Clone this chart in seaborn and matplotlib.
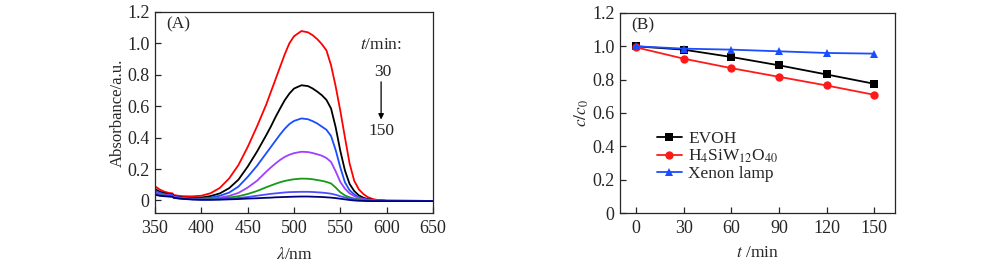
import numpy as np
import pandas as pd
import matplotlib
matplotlib.use("Agg")
import matplotlib.pyplot as plt
from matplotlib.ticker import FuncFormatter, MultipleLocator
import seaborn as sns

# ---------------- data ----------------
wavelength = [350, 355, 360, 365, 369, 370, 375, 380, 390, 400, 410, 420, 430, 440, 450,
              460, 470, 475, 480, 485, 490, 495, 500, 508, 515, 520, 525, 530, 535, 540,
              545, 550, 555, 560, 565, 570, 575, 580, 585, 590, 600, 650]

abs_red = [.090, .070, .056, .048, .045, .035, .030, .027, .026, .030, .046, .080, .140, .225, .340,
           .470, .610, .690, .770, .850, .930, 1.000, 1.045, 1.078, 1.070, 1.052, 1.027, .995, .955, .860,
           .725, .570, .400, .235, .125, .070, .040, .020, .009, .003, -.002, -.003]
abs_black = [.072, .056, .046, .040, .038, .028, .022, .018, .015, .018, .028, .045, .078, .132, .215,
             .310, .415, .470, .530, .585, .638, .680, .712, .733, .728, .713, .693, .670, .640, .585,
             .465, .315, .190, .105, .060, .032, .017, .008, .004, .001, -.002, -.003]
abs_blue = [.062, .049, .040, .036, .034, .025, .020, .016, .012, .012, .018, .030, .050, .088, .150,
            .220, .300, .340, .380, .420, .456, .486, .506, .522, .517, .505, .490, .470, .450, .410,
            .320, .210, .115, .065, .038, .020, .010, .005, .002, .000, -.002, -.003]
abs_purple = [.052, .042, .035, .032, .030, .022, .018, .014, .010, .009, .012, .018, .029, .048, .082,
              .125, .183, .210, .235, .258, .277, .291, .301, .310, .308, .302, .294, .285, .270, .245,
              .185, .118, .075, .045, .028, .015, .008, .004, .002, .000, -.002, -.003]
abs_green = [.046, .037, .031, .027, .025, .018, .014, .011, .008, .007, .009, .013, .019, .027, .041,
             .060, .084, .095, .106, .116, .124, .130, .135, .139, .138, .135, .130, .125, .118, .108,
             .082, .052, .032, .020, .012, .007, .004, .002, .001, .000, -.002, -.003]
abs_violet = [.040, .033, .029, .027, .026, .019, .015, .012, .008, .006, .006, .008, .011, .016, .022,
              .030, .038, .042, .045, .048, .051, .053, .054, .055, .055, .054, .052, .050, .047, .043,
              .036, .027, .019, .012, .007, .004, .002, .000, -.001, -.002, -.003, -.003]
abs_navy = [.036, .030, .027, .025, .024, .017, .013, .010, .006, .004, .004, .005, .007, .009, .012,
            .014, .017, .018, .020, .021, .022, .023, .024, .025, .025, .024, .023, .022, .020, .018,
            .015, .011, .007, .003, .000, -.002, -.003, -.004, -.004, -.004, -.004, -.004]

spectra_names = ["s1", "s2", "s3", "s4", "s5", "s6", "s7"]
spectra_values = [abs_red, abs_black, abs_blue, abs_purple, abs_green, abs_violet, abs_navy]
spectra_colors = ["#ff0000", "#000000", "#1a4dff", "#a040ff", "#169a16", "#4d4dff", "#00007a"]

time_min = [0, 30, 60, 90, 120, 150]
series_names = ["EVOH", r"H$_4$SiW$_{12}$O$_{40}$", "Xenon lamp"]
cc0_evoh = [1.0, 0.980, 0.936, 0.886, 0.831, 0.775]
cc0_hsiw = [0.994, 0.926, 0.869, 0.817, 0.765, 0.709]
cc0_xenon = [1.0, 0.986, 0.980, 0.970, 0.960, 0.956]
series_colors = ["#000000", "#ff1a1a", "#1a4dff"]
series_markers = ["s", "o", "^"]

# ---------------- style ----------------
sns.set_theme(style="ticks")
plt.rcParams["font.family"] = ["Liberation Serif", "DejaVu Serif"]
plt.rcParams["mathtext.fontset"] = "stix"
plt.rcParams["font.size"] = 12.5
plt.rcParams["axes.linewidth"] = 0.9
plt.rcParams["xtick.direction"] = "in"
plt.rcParams["ytick.direction"] = "in"
plt.rcParams["xtick.major.size"] = 4
plt.rcParams["ytick.major.size"] = 4
plt.rcParams["xtick.major.width"] = 0.9
plt.rcParams["ytick.major.width"] = 0.9
plt.rcParams["xtick.major.pad"] = 5
plt.rcParams["ytick.major.pad"] = 4

TICK_FS = 13
LABEL_FS = 12
TEXT_FS = 12.5

fig = plt.figure(figsize=(10, 2.7), dpi=100)
axA = fig.add_axes([0.155, 0.211, 0.278, 0.745])
axB = fig.add_axes([0.620, 0.211, 0.275, 0.741])

zero_fmt = FuncFormatter(lambda v, p: "0" if abs(v) < 1e-9 else f"{v:.1f}")

# ---------------- panel A ----------------
dfA = pd.DataFrame({
    "wl": np.tile(wavelength, len(spectra_names)),
    "A": np.concatenate(spectra_values),
    "curve": np.repeat(spectra_names, len(wavelength)),
})
sns.lineplot(data=dfA, x="wl", y="A", hue="curve", hue_order=spectra_names,
             palette=dict(zip(spectra_names, spectra_colors)), legend=False,
             linewidth=1.3, ax=axA, sort=False, estimator=None)
axA.set_xlim(350, 650)
axA.set_ylim(-0.08, 1.2)
axA.xaxis.set_major_locator(MultipleLocator(50))
axA.yaxis.set_major_locator(MultipleLocator(0.2))
axA.yaxis.set_major_formatter(zero_fmt)
axA.set_xlabel(r"$\lambda$/nm", fontsize=TEXT_FS, labelpad=7)
axA.set_ylabel("Absorbance/a.u.", fontsize=LABEL_FS, labelpad=1)
axA.tick_params(labelsize=TICK_FS, top=False, right=False)
axA.text(362, 1.12, "(A)", fontsize=TEXT_FS, va="center", ha="left")
axA.text(594, 0.99, r"$t$/min:", fontsize=TEXT_FS, va="center", ha="center")
axA.text(596, 0.82, "30", fontsize=TEXT_FS, va="center", ha="center")
axA.text(594, 0.44, "150", fontsize=TEXT_FS, va="center", ha="center")
axA.annotate("", xy=(594, 0.515), xytext=(594, 0.755),
             arrowprops=dict(arrowstyle="-|>", color="black", lw=0.9,
                             mutation_scale=8, shrinkA=0, shrinkB=0))

# ---------------- panel B ----------------
dfB = pd.DataFrame({
    "t": np.tile(time_min, 3),
    "c": np.concatenate([cc0_evoh, cc0_hsiw, cc0_xenon]),
    "series": np.repeat(series_names, len(time_min)),
})
sns.lineplot(data=dfB, x="t", y="c", hue="series", style="series",
             hue_order=series_names, style_order=series_names,
             palette=dict(zip(series_names, series_colors)),
             markers=dict(zip(series_names, series_markers)), dashes=False,
             markersize=6, markeredgewidth=0, linewidth=1.3, ax=axB, legend=False)
axB.set_xlim(-10, 163)
axB.set_ylim(0, 1.2)
axB.xaxis.set_major_locator(MultipleLocator(30))
axB.yaxis.set_major_locator(MultipleLocator(0.2))
axB.yaxis.set_major_formatter(zero_fmt)
axB.set_xlabel(r"$t$ /min", fontsize=TEXT_FS, labelpad=6)
axB.set_ylabel(r"$c/c_0$", fontsize=TEXT_FS, labelpad=1)
axB.tick_params(labelsize=TICK_FS, top=False, right=False)
axB.text(-3, 1.125, "(B)", fontsize=TEXT_FS, va="center", ha="left")

handles = axB.get_lines()[:3]
leg = axB.legend(handles, series_names, loc="upper left", bbox_to_anchor=(0.11, 0.445),
                 frameon=False, fontsize=TEXT_FS, handlelength=1.4, handletextpad=0.4,
                 labelspacing=0.05, borderaxespad=0)

fig.savefig("out.png", dpi=100)
